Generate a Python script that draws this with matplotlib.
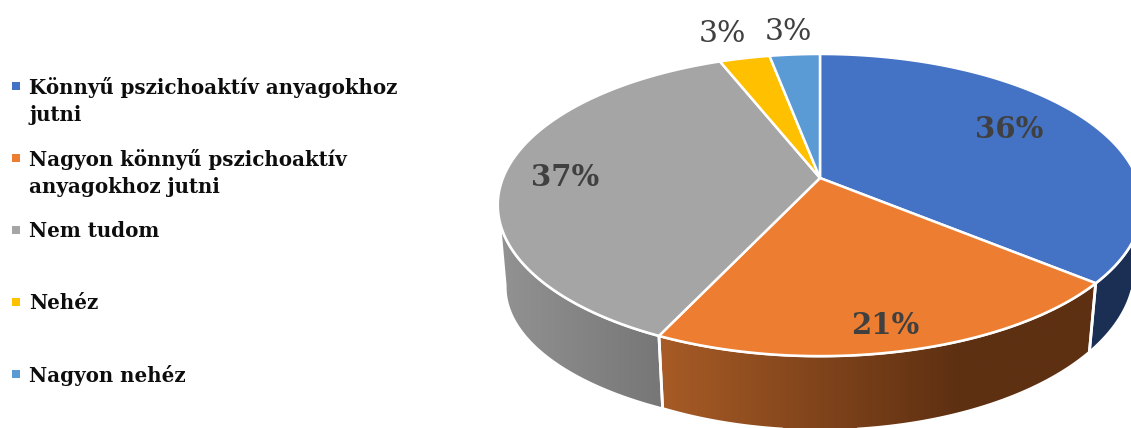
import numpy as np
import matplotlib
matplotlib.use("Agg")
import matplotlib.pyplot as plt
from matplotlib.patches import Polygon
from matplotlib.colors import LinearSegmentedColormap

categories = ["Könnyű pszichoaktív anyagokhoz\njutni",
              "Nagyon könnyű pszichoaktív\nanyagokhoz jutni",
              "Nem tudom", "Nehéz", "Nagyon nehéz"]
values = [36, 21, 37, 3, 3]
colors = ["#4472C4", "#ED7D31", "#A5A5A5", "#FFC000", "#5B9BD5"]

FONT = "DejaVu Serif"
W, H = 1131, 428
fig = plt.figure(figsize=(W / 100, H / 100), dpi=100)
ax = fig.add_axes([0, 0, 1, 1])
ax.set_xlim(0, W)
ax.set_ylim(H, 0)
ax.axis("off")

CX, CY, A, B, K = 820, 178, 317, 146.2, 0.179


def top(theta):
    u, v = np.sin(theta), np.cos(theta)
    d = 1 + K * v
    return CX + A * u / d, CY - B * v / d


def low(theta, a=239.6, s=1.07):
    x, y = top(theta)
    return CX + 0.977 * (x - CX), a + s * (y - CY)


edges = np.deg2rad(np.cumsum([0] + values) * 3.6)


def side(t0, t1, stops, x0, x1, a=239.6, s=1.07):
    t = np.linspace(t0, t1, 120)
    xt, yt = top(t)
    xl, yl = low(t, a, s)
    pts = np.r_[np.c_[xt, yt], np.c_[xl, yl][::-1]]
    ax.add_patch(Polygon(pts, closed=True, fc="none", ec="white", lw=2, zorder=3))
    cmap = LinearSegmentedColormap.from_list("g", stops)
    im = ax.imshow(np.linspace(0, 1, 256)[None, :], cmap=cmap, aspect="auto",
                   extent=(x0, x1, H, 0), zorder=2)
    im.set_clip_path(Polygon(pts, closed=True, transform=ax.transData))


# Side walls
side(np.deg2rad(98), edges[1], ["#1B2F54", "#1B2F54"], 1000, 1145)
side(edges[1], edges[2],
     [(0, "#A95C26"), (0.68, "#5E3012"), (1, "#5E3012")], 655, 1100)
side(edges[2], np.deg2rad(260.3), ["#939393", "#767676"], 495, 665, a=262, s=0.93)
ax.set_xlim(0, W)
ax.set_ylim(H, 0)

# Top faces
for i, c in enumerate(colors):
    t = np.linspace(edges[i], edges[i + 1], 150)
    x, y = top(t)
    pts = np.r_[[[CX, CY]], np.c_[x, y]]
    ax.add_patch(Polygon(pts, closed=True, fc=c, ec="white", lw=1.8,
                         joinstyle="round", zorder=4))

# Data labels
label_pos = [(1009, 130), (885, 326), (565, 177), (722, 34), (788, 32)]
for v, (x, y), i in zip(values, label_pos, range(5)):
    ax.text(x, y, f"{v}%", ha="center", va="center", family=FONT,
            fontsize=21 if i < 3 else 21.5, fontweight="bold" if i < 3 else "normal",
            color="#404040", zorder=6)

# Legend
marker_y = [86, 158, 230, 302, 374]
for cat, c, y in zip(categories, colors, marker_y):
    ax.scatter([16], [y], marker="s", s=32, color=c, linewidths=0, zorder=5)
    for j, line in enumerate(cat.split("\n")):
        ax.text(29, y + 1 + j * 28, line, ha="left", va="center", family=FONT,
                fontsize=14.35, fontweight="bold", color="#0d0d0d", zorder=6)

fig.savefig("out.png", dpi=100, facecolor="white")
